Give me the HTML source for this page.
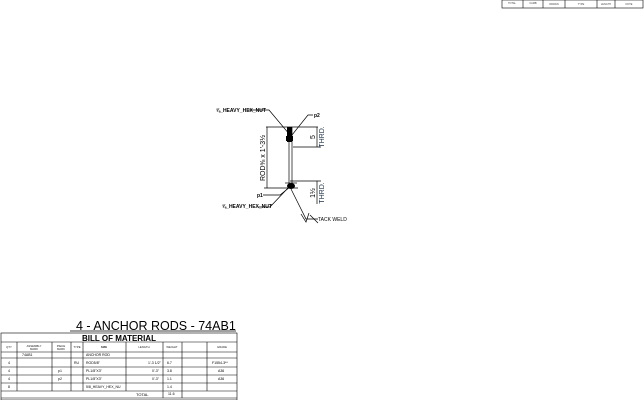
<!DOCTYPE html>
<html><head><meta charset="utf-8"><style>
body{margin:0;width:644px;height:400px;background:#fff;overflow:hidden;font-family:"Liberation Sans",sans-serif}
</style></head><body>
<svg width="644" height="400" viewBox="0 0 644 400" xmlns="http://www.w3.org/2000/svg" font-family="Liberation Sans, sans-serif">
<!-- top-right title block -->
<g stroke="#000" stroke-width="0.6" fill="none">
<rect x="502" y="0" width="141" height="8"/>
<line x1="523" y1="0" x2="523" y2="8"/><line x1="543" y1="0" x2="543" y2="8"/>
<line x1="565" y1="0" x2="565" y2="8"/><line x1="597" y1="0" x2="597" y2="8"/>
<line x1="615" y1="0" x2="615" y2="8"/>
</g>
<g font-size="2.5" fill="#444" text-anchor="middle">
<text x="512" y="4">TOTAL</text><text x="533" y="4">CAMB</text><text x="554" y="5">DRAWN</text><text x="581" y="5">TYPE</text><text x="606" y="5">LENGTH</text><text x="629" y="5">NOTE</text>
</g>
<!-- drawing -->
<g stroke="#000" stroke-width="0.7" fill="none">
<line x1="289" y1="127" x2="289" y2="185"/><line x1="292" y1="127" x2="292" y2="185"/>
<line x1="266" y1="127" x2="318" y2="127"/>
<line x1="293" y1="147" x2="321" y2="147"/>
<line x1="290" y1="181" x2="321" y2="181"/>
<line x1="264" y1="188" x2="298" y2="188"/>
<line x1="267" y1="127" x2="267" y2="188"/>
<line x1="317" y1="127" x2="317" y2="147"/>
<line x1="317" y1="181" x2="317" y2="204"/>
<line x1="285" y1="183" x2="297" y2="183"/>
<polyline points="247,110 269,110 290,135"/>
<polyline points="313,115 308,115 292,135"/>
<polyline points="263,195 280,195 290,187"/>
<polyline points="258,207 270,207 288,188"/>
<polyline points="291,189 306,219 318,219"/>
<polyline points="301,214 306,222 309,213"/>
<line x1="310" y1="215" x2="318" y2="223"/>
</g>
<rect x="287" y="127" width="5" height="15" fill="#000"/>
<rect x="286" y="136" width="7" height="5" fill="#000"/>
<ellipse cx="291" cy="186" rx="4" ry="3" fill="#000"/>
<g font-size="5" font-weight="bold" fill="#000">
<text x="216" y="112">⅝_HEAVY_HEX_NUT</text>
<text x="314" y="117">p2</text>
<text x="257" y="197">p1</text>
<text x="222" y="208">⅝_HEAVY_HEX_NUT</text>
<text x="318" y="221" font-weight="normal">TACK WELD</text>
</g>
<g font-size="7" fill="#000">
<text transform="translate(265,158) rotate(-90)" text-anchor="middle">ROD⅝ x 1'-3½</text>
<text transform="translate(315,137) rotate(-90)" text-anchor="middle">5</text>
<text transform="translate(324,137) rotate(-90)" text-anchor="middle" fill="#234">THRD.</text>
<text transform="translate(315,193) rotate(-90)" text-anchor="middle">1½</text>
<text transform="translate(324,193) rotate(-90)" text-anchor="middle" fill="#234">THRD.</text>
</g>
<!-- BOM -->
<text x="76" y="330" font-size="12.5" fill="#000">4 - ANCHOR RODS - 74AB1</text>
<line x1="70" y1="331" x2="236" y2="331" stroke="#000" stroke-width="0.8"/>
<g stroke="#000" stroke-width="0.6" fill="none">
<rect x="1" y="333" width="236" height="67"/>
<line x1="1" y1="342" x2="237" y2="342"/>
<line x1="1" y1="352" x2="237" y2="352"/>
<line x1="1" y1="358" x2="237" y2="358"/>
<line x1="1" y1="367" x2="237" y2="367"/>
<line x1="1" y1="375" x2="237" y2="375"/>
<line x1="1" y1="383" x2="237" y2="383"/>
<line x1="1" y1="391" x2="237" y2="391"/>
<line x1="1" y1="398" x2="237" y2="398"/>
<line x1="17" y1="342" x2="17" y2="391"/>
<line x1="52" y1="342" x2="52" y2="391"/>
<line x1="71" y1="342" x2="71" y2="391"/>
<line x1="83" y1="342" x2="83" y2="391"/>
<line x1="126" y1="342" x2="126" y2="391"/>
<line x1="163" y1="342" x2="163" y2="398"/>
<line x1="182" y1="342" x2="182" y2="398"/>
<line x1="207" y1="342" x2="207" y2="391"/>
</g>
<text x="119" y="341" font-size="8" font-weight="bold" text-anchor="middle">BILL OF MATERIAL</text>
<g font-size="2.8" fill="#222" text-anchor="middle">
<text x="9" y="348">QTY</text><text x="34" y="347">ASSEMBLY</text><text x="34" y="350">MARK</text>
<text x="61" y="347">PIECE</text><text x="61" y="350">MARK</text><text x="77" y="348">TYPE</text>
<text x="104" y="348" font-weight="bold">SIZE</text><text x="144" y="348">LENGTH</text><text x="172" y="348">WEIGHT</text>
<text x="222" y="348">GRADE</text>
</g>
<g font-size="3.5" fill="#000">
<text x="22" y="356">74AB1</text><text x="86" y="356">ANCHOR ROD</text>
<text x="8" y="364">4</text><text x="74" y="364">RU</text><text x="86" y="364">ROD5/8"</text><text x="148" y="364">1'-3 1/2"</text><text x="167" y="364">6.7</text><text x="212" y="364">F1554-3**</text>
<text x="8" y="372">4</text><text x="58" y="372">p1</text><text x="86" y="372">PL1/8"X3"</text><text x="152" y="372">0'-3"</text><text x="167" y="372">3.8</text><text x="218" y="372">A36</text>
<text x="8" y="380">4</text><text x="58" y="380">p2</text><text x="86" y="380">PL1/8"X3"</text><text x="152" y="380">0'-3"</text><text x="167" y="380">1.1</text><text x="218" y="380">A36</text>
<text x="8" y="388">8</text><text x="86" y="388">5/8_HEAVY_HEX_NU</text><text x="167" y="388">1.4</text>
<text x="136" y="396" font-size="4">TOTAL</text><text x="168" y="395">11.6</text>
</g>
</svg>
</body></html>
